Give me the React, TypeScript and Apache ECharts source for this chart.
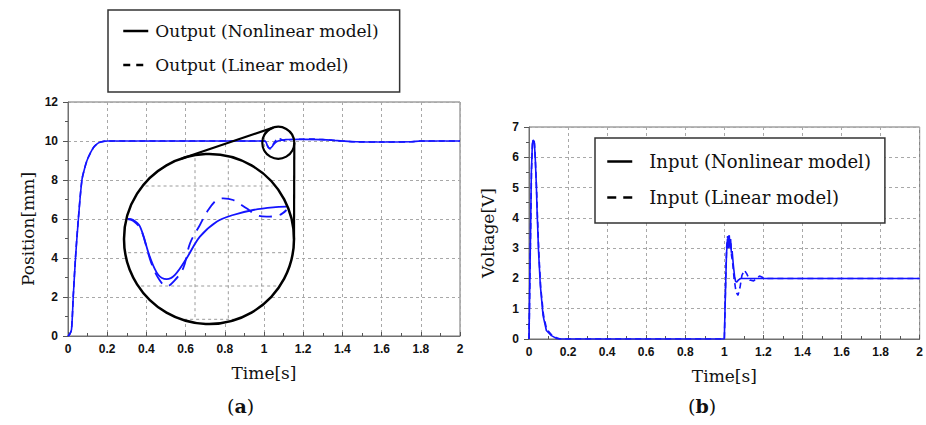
import React, { useEffect, useRef } from "react";
import * as echarts from "echarts";

// ---------- (a) Output position [mm] ----------
const tOutNL = [0, 0.009, 0.018, 0.027, 0.039, 0.053, 0.071, 0.085, 0.097, 0.115, 0.133, 0.15, 0.168, 0.2, 0.5, 1.0, 1.004, 1.0095, 1.017, 1.0235, 1.03, 1.0364, 1.0454, 1.0556, 1.0685, 1.0812, 1.0966, 1.112, 1.1223, 1.15, 1.2, 1.3, 1.35, 1.4, 1.47, 1.6, 1.75, 1.8, 2.0];
const yOutNL = [0, 0.09, 0.34, 2.05, 4.1, 6.0, 8.0, 8.6, 9.0, 9.4, 9.7, 9.87, 9.95, 10, 10, 10, 9.995, 9.954, 9.774, 9.665, 9.639, 9.665, 9.765, 9.894, 9.984, 10.024, 10.054, 10.07, 10.074, 10.08, 10.085, 10.07, 10.04, 10.0, 9.96, 9.95, 9.96, 10, 10];

const tOutL = [0, 0.009, 0.018, 0.027, 0.039, 0.053, 0.071, 0.085, 0.097, 0.115, 0.133, 0.15, 0.168, 0.2, 0.5, 1.0, 1.004, 1.01, 1.018, 1.024, 1.03, 1.036, 1.0428, 1.048, 1.0556, 1.062, 1.0685, 1.0735, 1.0812, 1.0915, 1.099, 1.107, 1.117, 1.1223, 1.15, 1.2, 1.25, 1.28, 1.3, 1.35, 1.4, 1.47, 1.6, 1.75, 1.8, 2.0];
const yOutL = [0, 0.1, 0.36, 2.1, 4.15, 6.05, 8.0, 8.6, 9.0, 9.4, 9.7, 9.87, 9.95, 10, 10, 10, 9.99, 9.94, 9.74, 9.64, 9.595, 9.63, 9.705, 9.854, 9.964, 10.054, 10.114, 10.124, 10.114, 10.064, 10.024, 10.014, 10.024, 10.054, 10.09, 10.09, 10.1, 10.08, 10.07, 10.04, 10.0, 9.96, 9.95, 9.96, 10, 10];

// ---------- (b) Input voltage [V] ----------
const tInNL = [0, 0.001, 0.0034, 0.0085, 0.012, 0.017, 0.0205, 0.027, 0.032, 0.0376, 0.041, 0.049, 0.058, 0.072, 0.089, 0.115, 0.14, 0.157, 1.0, 1.001, 1.006, 1.011, 1.016, 1.02, 1.024, 1.028, 1.032, 1.036, 1.04, 1.046, 1.053, 1.058, 1.064, 1.072, 1.085, 1.1, 2.0];
const vInNL = [0, 0.45, 1.55, 3.76, 5.5, 6.4, 6.57, 6.52, 5.97, 5.08, 4.3, 2.87, 1.77, 0.77, 0.28, 0.11, 0.02, 0, 0, 0.3, 1.6, 2.8, 3.3, 3.0, 3.42, 3.05, 3.3, 2.85, 2.9, 2.45, 2.04, 1.9, 1.88, 1.95, 2.0, 2.0, 2.0];

const tInL = [0, 0.001, 0.004, 0.009, 0.013, 0.018, 0.022, 0.028, 0.033, 0.039, 0.043, 0.051, 0.06, 0.074, 0.09, 0.115, 0.14, 0.16, 1.0, 1.002, 1.007, 1.012, 1.017, 1.021, 1.025, 1.029, 1.033, 1.037, 1.042, 1.05, 1.06, 1.07, 1.08, 1.09, 1.103, 1.115, 1.13, 1.15, 1.165, 1.18, 1.2, 1.22, 2.0];
const vInL = [0, 0.4, 1.7, 3.9, 5.6, 6.45, 6.55, 6.45, 5.85, 4.9, 4.1, 2.75, 1.7, 0.8, 0.33, 0.14, 0.04, 0, 0, 0.5, 2.0, 3.05, 3.4, 3.15, 3.45, 3.0, 3.2, 2.75, 2.55, 2.0, 1.55, 1.44, 1.7, 2.1, 2.27, 2.15, 1.95, 1.92, 2.0, 2.08, 2.02, 2.0, 2.0];

// zoomed window shown in the magnifier inset of (a)
const insetTime = [1.0, 1.125];
const insetPos = [9.55, 10.15];

const NAME_OUT_NL = "Output (Nonlinear model)";
const NAME_OUT_L = "Output (Linear model)";
const NAME_IN_NL = "Input (Nonlinear model)";
const NAME_IN_L = "Input (Linear model)";

const pairs = (t: number[], v: number[]) => t.map((x, i) => [x, v[i]]);
const within = (p: number[][], a: number, b: number) => p.filter(([x]) => x >= a && x <= b);

const BLUE = "#1414ff";
const SERIF = "DejaVu Serif";
const TICKFONT = "Liberation Sans";

function buildOption() {
  const outNL = pairs(tOutNL, yOutNL);
  const outL = pairs(tOutL, yOutL);
  const inNL = pairs(tInNL, vInNL);
  const inL = pairs(tInL, vInL);

  // magnifier geometry (decoration)
  const big = { cx: 209, cy: 239, r: 85 };
  const small = { cx: 278.3, cy: 142.8, r: 16 };
  const dx = big.cx - small.cx, dy = big.cy - small.cy;
  const L = Math.hypot(dx, dy);
  const phi = Math.atan2(dy, dx);
  const a = Math.acos((small.r - big.r) / L);
  const tangents = [phi + a, phi - a].map((th) => {
    const nx = Math.cos(th), ny = Math.sin(th);
    return {
      type: "line",
      z: 12,
      shape: { x1: small.cx + small.r * nx, y1: small.cy + small.r * ny, x2: big.cx + big.r * nx, y2: big.cy + big.r * ny },
      style: { stroke: "#000", lineWidth: 2.2 },
    };
  });
  const gridH = [186, 219.5, 252.7, 286, 319.3];
  const gridV = [195, 228.3, 261.7];
  const insetGrid: any[] = [];
  gridH.forEach((yy) => {
    const h = Math.sqrt(big.r * big.r - (yy - big.cy) ** 2) - 3;
    insetGrid.push({ type: "line", z: 4, shape: { x1: big.cx - h, y1: yy, x2: big.cx + h, y2: yy }, style: { stroke: "#9a9a9a", lineWidth: 1, lineDash: [3, 3] } });
  });
  gridV.forEach((xx) => {
    const h = Math.sqrt(big.r * big.r - (xx - big.cx) ** 2) - 3;
    insetGrid.push({ type: "line", z: 4, shape: { x1: xx, y1: big.cy - h, x2: xx, y2: big.cy + h }, style: { stroke: "#9a9a9a", lineWidth: 1, lineDash: [3, 3] } });
  });

  const axisLabel = { fontFamily: TICKFONT, fontWeight: "bold", fontSize: 12, color: "#111" };
  const splitLine = { show: true, lineStyle: { color: "#a8a8a8", type: [3, 3], width: 1 } };
  const axisLine = { show: true, lineStyle: { color: "#707070", width: 1 } };
  const nameStyle = { fontFamily: SERIF, fontSize: 17, color: "#111" };

  const xAxisBase = (gi: number) => ({
    type: "value",
    gridIndex: gi,
    min: 0,
    max: 2,
    interval: 0.2,
    name: "Time[s]",
    nameLocation: "middle",
    nameGap: 28,
    nameTextStyle: nameStyle,
    axisLine,
    axisTick: { show: true, inside: true, length: 4, lineStyle: { color: "#555" } },
    minorTick: { show: true, splitNumber: 2, length: 3, lineStyle: { color: "#555" } },
    axisLabel: { ...axisLabel, margin: 7 },
    splitLine,
  });

  const lineSeries = (name: string, data: number[][], xi: number, yi: number, dash: any, z = 2, smooth: any = false, width = 1.6) => ({
    type: "line",
    name,
    data,
    xAxisIndex: xi,
    yAxisIndex: yi,
    symbol: "none",
    showSymbol: false,
    smooth,
    z,
    lineStyle: { color: BLUE, width, type: dash },
    itemStyle: { color: BLUE },
  });

  const hiddenSymbol = { color: "transparent", borderColor: "transparent", borderWidth: 0 };

  return {
    animation: false,
    backgroundColor: "#fff",
    grid: [
      { left: 68, top: 102, width: 392, height: 234, show: true, borderColor: "#707070", borderWidth: 1, backgroundColor: "transparent" },
      { left: 529, top: 127, width: 395, height: 212, show: true, borderColor: "#707070", borderWidth: 1, backgroundColor: "transparent" },
      { left: 127.7, top: 194, width: 162.3, height: 100, show: false },
    ],
    xAxis: [
      xAxisBase(0),
      xAxisBase(1),
      { type: "value", gridIndex: 2, min: insetTime[0], max: insetTime[1], show: false },
    ],
    yAxis: [
      {
        type: "value", gridIndex: 0, min: 0, max: 12, interval: 2,
        name: "Position[mm]", nameLocation: "middle", nameRotate: 90, nameGap: 32,
        nameTextStyle: { ...nameStyle, padding: [0, 20, 0, 0] },
        axisLine, axisTick: { show: true, inside: false, length: 5, lineStyle: { color: "#555" } },
        minorTick: { show: true, splitNumber: 2, length: 3, lineStyle: { color: "#555" } },
        axisLabel: { ...axisLabel, margin: 10 }, splitLine,
      },
      {
        type: "value", gridIndex: 1, min: 0, max: 7, interval: 1,
        name: "Voltage[V]", nameLocation: "middle", nameRotate: 90, nameGap: 33,
        nameTextStyle: nameStyle,
        axisLine, axisTick: { show: true, inside: false, length: 5, lineStyle: { color: "#555" } },
        minorTick: { show: true, splitNumber: 2, length: 3, lineStyle: { color: "#555" } },
        axisLabel: { ...axisLabel, margin: 10 }, splitLine,
      },
      { type: "value", gridIndex: 2, min: insetPos[0], max: insetPos[1], show: false },
    ],
    legend: [
      {
        data: [
          { name: NAME_OUT_NL, lineStyle: { color: "#000", width: 2.5, type: "solid" }, itemStyle: hiddenSymbol },
          { name: NAME_OUT_L, lineStyle: { color: "#000", width: 2.5, type: [7, 6] }, itemStyle: hiddenSymbol },
        ],
        orient: "vertical", left: 108, top: 10, itemWidth: 25, itemHeight: 14, itemGap: 12,
        padding: [10, 21, 16, 14], borderColor: "#333", borderWidth: 1.5, backgroundColor: "#fff",
        textStyle: { fontFamily: SERIF, fontSize: 17, color: "#111", lineHeight: 22, padding: [0, 0, 0, 2] },
      },
      {
        data: [
          { name: NAME_IN_NL, lineStyle: { color: "#000", width: 2.5, type: "solid" }, itemStyle: hiddenSymbol },
          { name: NAME_IN_L, lineStyle: { color: "#000", width: 2.5, type: [9, 7] }, itemStyle: hiddenSymbol },
        ],
        orient: "vertical", left: 595, top: 138, itemWidth: 25, itemHeight: 14, itemGap: 13,
        padding: [12, 14, 14, 11], borderColor: "#333", borderWidth: 1.5, backgroundColor: "#fff",
        textStyle: { fontFamily: SERIF, fontSize: 18, color: "#111", lineHeight: 23, padding: [0, 0, 0, 12] },
      },
    ],
    graphic: [
      { type: "circle", z: 3, shape: { cx: big.cx, cy: big.cy, r: big.r }, style: { fill: "#fff", stroke: "none" } },
      ...insetGrid,
      { type: "circle", z: 12, shape: { cx: big.cx, cy: big.cy, r: big.r }, style: { fill: "none", stroke: "#000", lineWidth: 2.5 } },
      { type: "circle", z: 12, shape: { cx: small.cx, cy: small.cy, r: small.r }, style: { fill: "none", stroke: "#000", lineWidth: 2.2 } },
      ...tangents,
      {
        type: "text", left: 227, top: 396,
        style: {
          text: "({a|a})", fontFamily: SERIF, fontSize: 19, fill: "#111",
          rich: { a: { fontFamily: SERIF, fontSize: 19, fontWeight: "bold", fill: "#111" } },
        },
      },
      {
        type: "text", left: 688, top: 396,
        style: {
          text: "({b|b})", fontFamily: SERIF, fontSize: 19, fill: "#111",
          rich: { b: { fontFamily: SERIF, fontSize: 19, fontWeight: "bold", fill: "#111" } },
        },
      },
    ],
    series: [
      lineSeries(NAME_OUT_NL, outNL, 0, 0, "solid", 2, 0.3),
      lineSeries(NAME_OUT_L, outL, 0, 0, [6, 4], 2, 0.3),
      lineSeries(NAME_IN_NL, inNL, 1, 1, "solid"),
      lineSeries(NAME_IN_L, inL, 1, 1, [6, 4]),
      lineSeries(NAME_OUT_NL, within(outNL, insetTime[0], insetTime[1]), 2, 2, "solid", 10, 0.35, 1.8),
      lineSeries(NAME_OUT_L, within(outL, insetTime[0], insetTime[1]), 2, 2, [13, 8], 10, 0.35, 1.8),
    ],
  };
}

export default function App() {
  const ref = useRef<HTMLDivElement>(null);
  useEffect(() => {
    if (!ref.current) return;
    const chart = echarts.init(ref.current, undefined, { renderer: "svg" });
    chart.setOption(buildOption() as any);
    return () => chart.dispose();
  }, []);
  return (
    <div
      ref={ref}
      style={{ position: "fixed", left: 0, top: 0, width: 926, height: 425, background: "#fff" }}
    />
  );
}
